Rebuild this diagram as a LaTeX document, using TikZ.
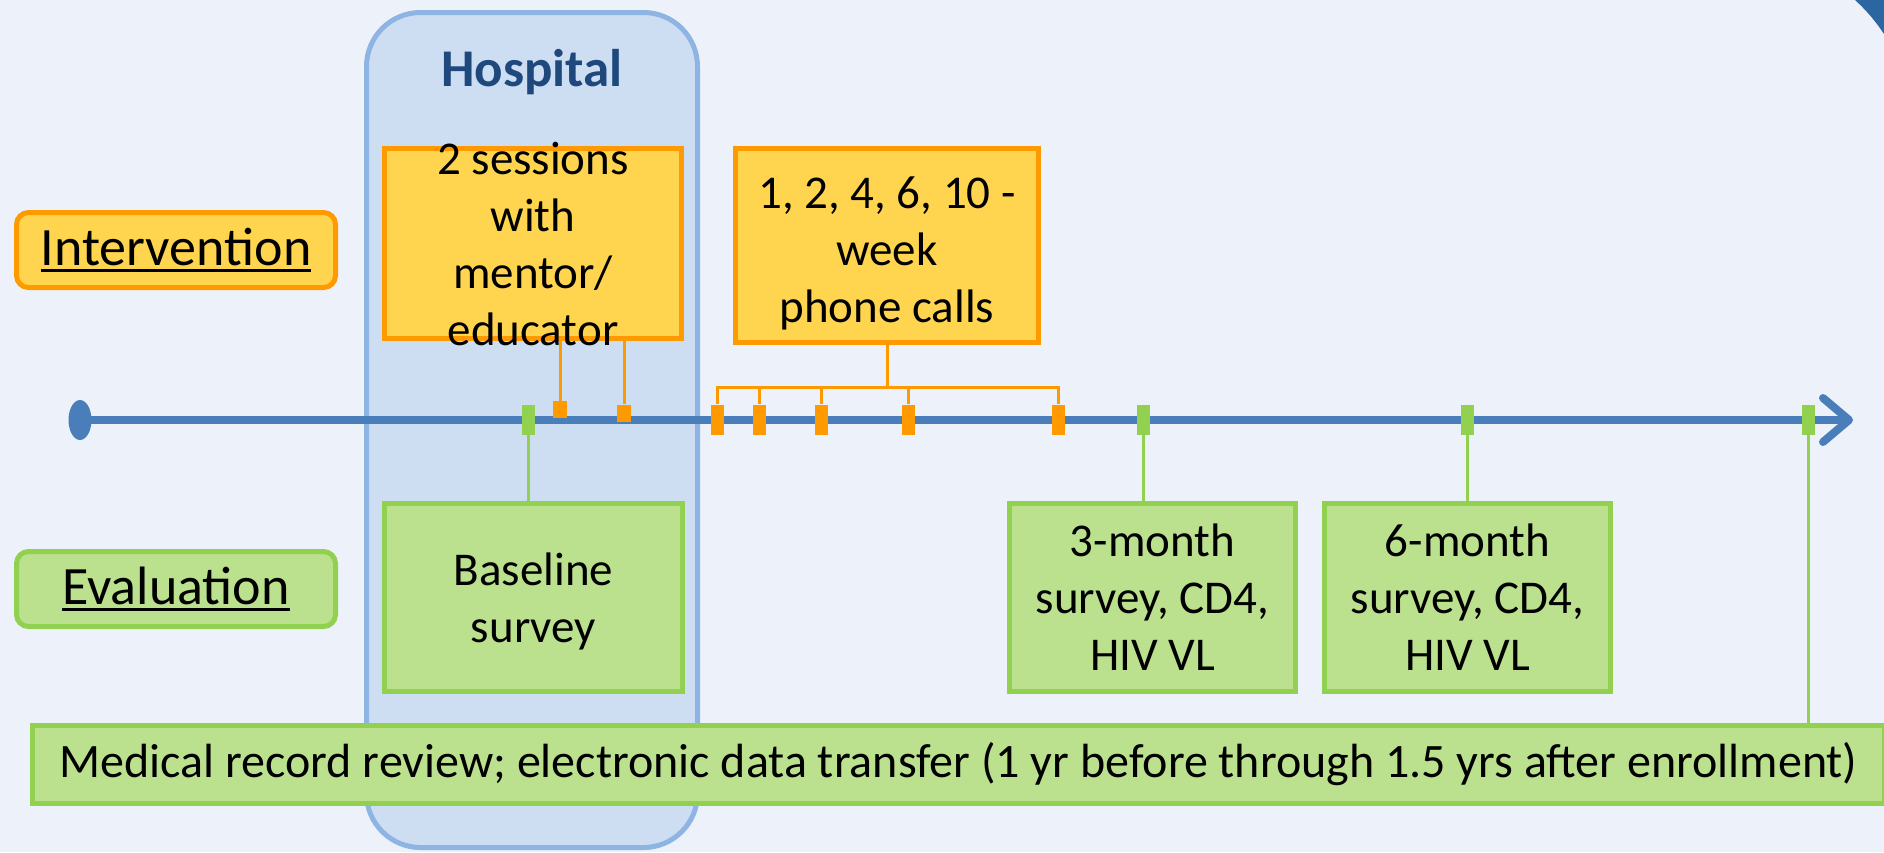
\documentclass[tikz,border=0pt]{standalone}
\usepackage{fontspec}
\setmainfont{Carlito}
\usetikzlibrary{shapes.geometric,arrows.meta}
\newcommand{\ulword}[1]{\setbox0\hbox{#1}\rlap{\rule[-3.5pt]{\wd0}{1.5pt}}\box0}
\definecolor{bgpage}{HTML}{EDF1F9}
\definecolor{hospfill}{HTML}{CEDEF2}
\definecolor{hospdraw}{HTML}{8DB4E2}
\definecolor{hosptext}{HTML}{1F497D}
\definecolor{orfill}{HTML}{FFD54F}
\definecolor{ordraw}{HTML}{FF9900}
\definecolor{grfill}{HTML}{BBE08E}
\definecolor{grdraw}{HTML}{92D050}
\definecolor{tlblue}{HTML}{4A7EBB}
\definecolor{decoblue}{HTML}{2B66A0}
\begin{document}
\begin{tikzpicture}[x=0.5pt,y=-0.5pt,
  obox/.style={draw=ordraw, fill=orfill, line width=2.5pt, inner sep=0pt},
  gbox/.style={draw=grdraw, fill=grfill, line width=2.5pt, inner sep=0pt},
  otick/.style={fill=ordraw, minimum width=6.5pt, minimum height=15pt, inner sep=0pt},
  gtick/.style={fill=grdraw, minimum width=6.5pt, minimum height=15pt, inner sep=0pt},
  ostem/.style={draw=ordraw, line width=1.5pt},
  gstem/.style={draw=grdraw, line width=1.5pt},
  boxtext/.style={font=\fontsize{23.5}{28.5}\selectfont, align=center},
  rowlabel/.style={line width=2.5pt, rounded corners=6pt, minimum width=159.5pt,
    minimum height=37.5pt, font=\fontsize{27}{32}\selectfont}]
  % page and hospital stay
  \fill[bgpage] (0,0) rectangle (1884,852);
  \useasboundingbox (0,0) rectangle (1884,852);
  \fill[decoblue] (1855,0) .. controls (1868,12) and (1876,22) .. (1884,34) -- (1884,0) -- cycle;
  \node[draw=hospdraw, fill=hospfill, line width=2.5pt, rounded corners=27pt,
    minimum width=165.5pt, minimum height=417.5pt] (hospital) at (532,430) {};
  \node[anchor=base, text=hosptext, font=\fontsize{26.5}{31}\selectfont\bfseries]
    (hosptitle) at (532,86) {Hospital};

  % row labels
  \node[rowlabel, draw=ordraw, fill=orfill] (intlabel) at (176,250) {\ulword{Intervention}};
  \node[rowlabel, draw=grdraw, fill=grfill] (evallabel) at (176,589) {\ulword{Evaluation}};

  % timeline
  \node[ellipse, fill=tlblue, minimum width=11.5pt, minimum height=20pt, inner sep=0pt]
    (start) at (80,420) {};
  \coordinate (tip) at (1853,420);
  \draw[tlblue, line width=4pt, -{Straight Barb[length=13pt,width=22pt,round]}]
    (start.center) -- (tip);

  % intervention
  \node[obox, minimum width=148.5pt, minimum height=95pt] (sessions) at (533,243.5) {};
  \node[boxtext] (sessionstext) at (sessions.center) {2 sessions\\with\\mentor/\\educator};
  \node[obox, minimum width=151.5pt, minimum height=97pt] (calls) at (887,245.5) {};
  \node[boxtext] (callstext) at (887,253) {1, 2, 4, 6, 10 -\\week\\phone calls};
  \node[otick, minimum width=7pt, minimum height=8.5pt] (ses1) at (560,409.5) {};
  \node[otick, minimum width=7pt, minimum height=8.5pt] (ses2) at (624,413) {};
  \foreach \s in {1,2}
    \draw[ostem] (ses\s.north |- sessions.south) -- (ses\s.north);
  \foreach \x [count=\i] in {717,759,821,908,1058}
    \node[otick] (call\i) at (\x,419.5) {};
  \coordinate (fork) at (888,387);
  \draw[ostem] (calls.south) -- (calls.south |- fork);
  \foreach \i in {1,...,5}
    \draw[ostem] (calls.south |- fork) -| (call\i.north);

  % evaluation
  \node[gbox, minimum width=149pt, minimum height=94pt] (base) at (533.5,597.5) {};
  \node[boxtext] (basetext) at (533.5,601) {Baseline\\survey};
  \node[gbox, boxtext, minimum width=143pt, minimum height=94pt] (mthree) at (1152.5,597.5)
    {3-month\\survey, CD4,\\HIV VL};
  \node[gbox, boxtext, minimum width=143pt, minimum height=94pt] (msix) at (1467.5,597.5)
    {6-month\\survey, CD4,\\HIV VL};
  \node[gbox, minimum width=926pt, minimum height=39pt, font=\fontsize{24}{28}\selectfont]
    (record) at (958.5,764.5)
    {Medical record review; electronic data transfer (1 yr before through 1.5 yrs after enrollment)};
  \foreach \x/\n in {528/0,1143/1,1467/2,1808/3}
    \node[gtick] (ev\n) at (\x,420) {};
  \draw[gstem] (ev0.south) -- (ev0.south |- base.north);
  \draw[gstem] (ev1.south) -- (ev1.south |- mthree.north);
  \draw[gstem] (ev2.south) -- (ev2.south |- msix.north);
  \draw[gstem] (ev3.south) -- (ev3.south |- record.north);
\end{tikzpicture}
\end{document}
